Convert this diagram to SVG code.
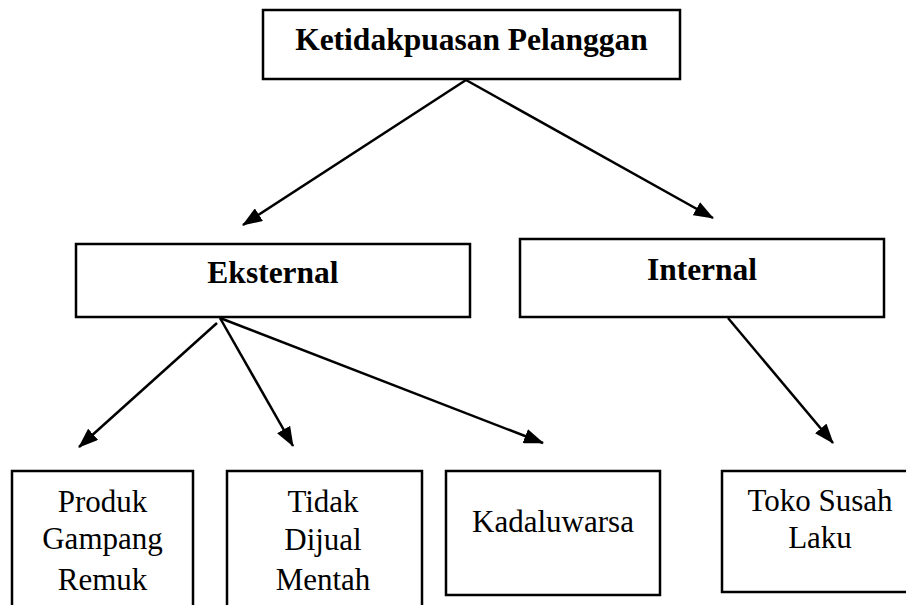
<svg xmlns="http://www.w3.org/2000/svg" width="906" height="605" viewBox="0 0 906 605">
  <style>
    .box { fill: #ffffff; stroke: #000000; stroke-width: 2.5; }
    .title { font-family: "Liberation Serif", "Times New Roman", serif; font-weight: bold; font-size: 31.5px; fill: #000000; text-anchor: middle; }
    .label { font-family: "Liberation Serif", "Times New Roman", serif; font-size: 31px; fill: #000000; text-anchor: middle; }
    .edge { stroke: #000000; stroke-width: 2.5; fill: none; marker-end: url(#arrow); }
  </style>
  <defs>
    <!-- solid triangular arrowhead, sized in user units -->
    <marker id="arrow" markerUnits="userSpaceOnUse" markerWidth="20" markerHeight="15" refX="19" refY="7.5" orient="auto">
      <path d="M0,0 L20,7.5 L0,15 z" fill="#000000"/>
    </marker>
  </defs>
  <rect width="906" height="605" fill="#ffffff"/>

  <g id="connectors">
    <line class="edge" x1="466" y1="80" x2="243" y2="225"/>
    <line class="edge" x1="466" y1="80" x2="713" y2="218"/>
    <line class="edge" x1="217" y1="323" x2="79" y2="447"/>
    <line class="edge" x1="220" y1="318" x2="293" y2="446"/>
    <line class="edge" x1="220" y1="318" x2="543" y2="443"/>
    <line class="edge" x1="728" y1="318" x2="833" y2="443"/>
  </g>

  <g id="ketidakpuasan">
    <rect class="box" x="263" y="10" width="417" height="69"/>
    <text class="title" x="471.5" y="50">Ketidakpuasan Pelanggan</text>
  </g>

  <g id="eksternal">
    <rect class="box" x="76" y="244" width="394" height="73"/>
    <text class="title" x="273" y="283">Eksternal</text>
  </g>

  <g id="internal">
    <rect class="box" x="520" y="239" width="364" height="78"/>
    <text class="title" x="702" y="280">Internal</text>
  </g>

  <g id="produk">
    <rect class="box" x="12" y="471" width="181" height="150"/>
    <text class="label" x="102.5" y="512">Produk</text>
    <text class="label" x="102.5" y="549">Gampang</text>
    <text class="label" x="102.5" y="590">Remuk</text>
  </g>

  <g id="tidak-dijual">
    <rect class="box" x="227" y="471" width="195" height="150"/>
    <text class="label" x="323" y="512">Tidak</text>
    <text class="label" x="323" y="550">Dijual</text>
    <text class="label" x="323" y="590">Mentah</text>
  </g>

  <g id="kadaluwarsa">
    <rect class="box" x="446" y="471" width="214" height="124"/>
    <text class="label" x="553" y="532">Kadaluwarsa</text>
  </g>

  <g id="toko">
    <rect class="box" x="722" y="471" width="196" height="121"/>
    <text class="label" x="820" y="511">Toko Susah</text>
    <text class="label" x="820" y="548">Laku</text>
  </g>
</svg>
